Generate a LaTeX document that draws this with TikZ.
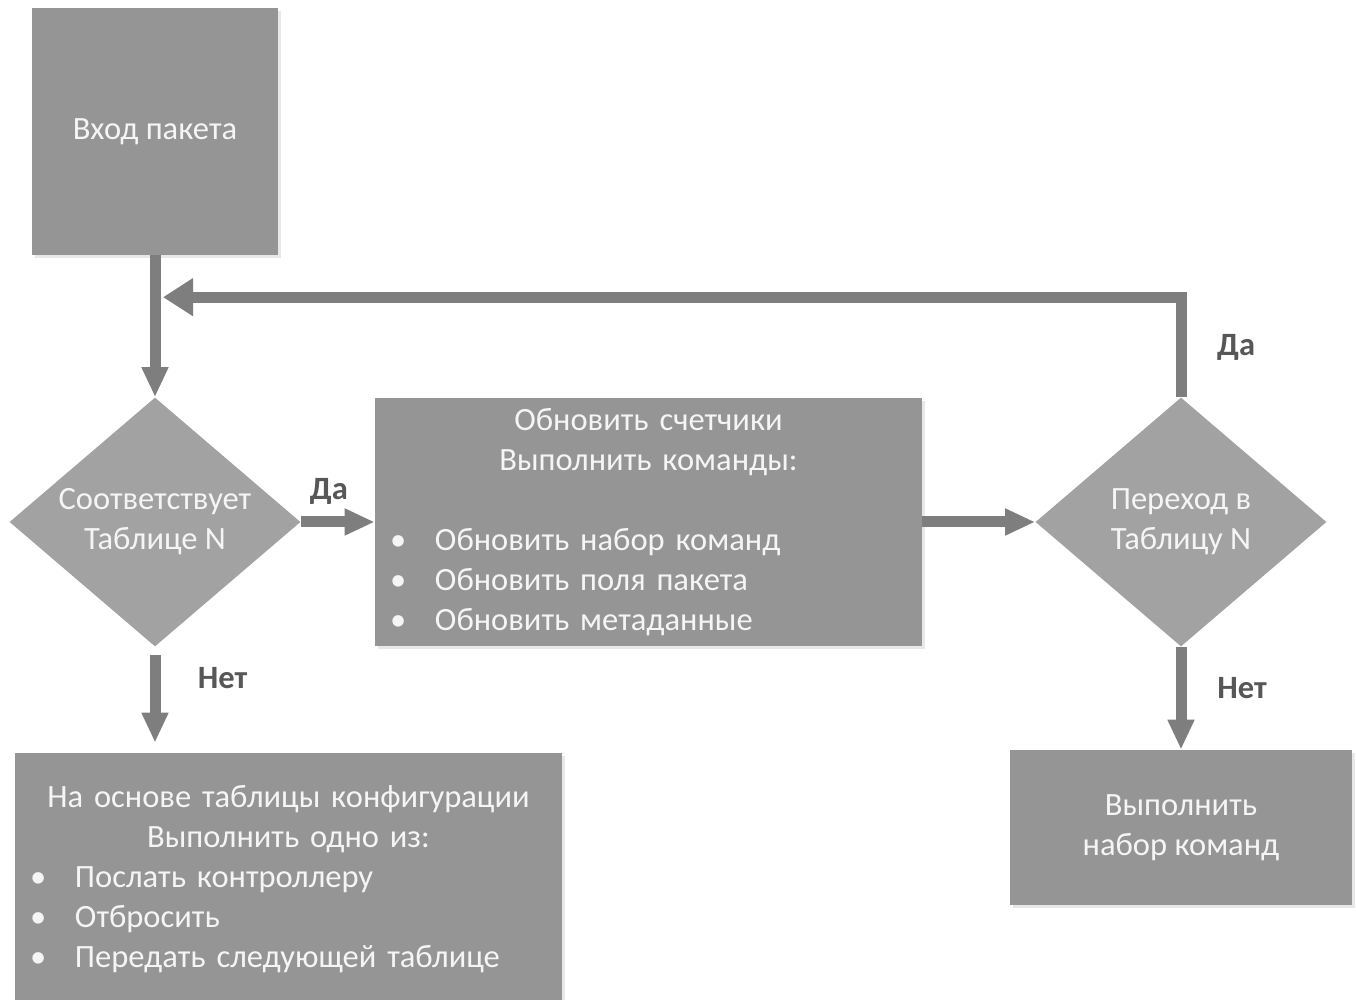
\documentclass[tikz,border=0pt]{standalone}
\usepackage{fontspec}
\setmainfont{Carlito}
\usepackage{xcolor}
\usepackage{tikz}
\usetikzlibrary{shapes,arrows.meta,positioning,calc,shadows}

\definecolor{boxgray}{HTML}{959595}
\definecolor{diagray}{HTML}{A2A2A2}
\definecolor{arrowgray}{HTML}{7E7E7E}
\definecolor{labelgray}{HTML}{575757}
\newcommand{\bitem}[1]{\makebox[\linewidth][l]{\makebox[1.2cm][l]{\hspace{0.3cm}\textbullet}#1}}

\begin{document}
\begin{tikzpicture}[
    node distance=1.5cm,
    font=\fontsize{18.5}{22.76}\selectfont,
    block/.style={rectangle, fill=boxgray, text=white!96!black, align=center, inner sep=0pt,
        drop shadow={shadow xshift=0.05cm, shadow yshift=-0.06cm, opacity=0.18}},
    decision/.style={diamond, fill=diagray, text=white!96!black, align=center, inner sep=-0.6cm,
        minimum width=5.82cm, minimum height=4.98cm},
    arrow/.style={-{Triangle[width=0.5cm, length=0.6cm]}, line width=0.22cm, draw=arrowgray},
    answer/.style={text=labelgray, font=\fontsize{18.5}{22.76}\selectfont\bfseries}
]
    \useasboundingbox (0,0) rectangle (27.12,20);

    % Nodes
    \node[block, minimum width=4.92cm, minimum height=4.94cm] (in) at (3.1,17.37) {Вход пакета};
    \node[decision, below of=in, yshift=-6.31cm] (match) {Соответствует\\Таблице N};
    \node[block, right of=match, xshift=8.37cm, minimum width=10.94cm, minimum height=4.96cm,
        text width=10.94cm] (update) {Обновить счетчики\\Выполнить команды:\\ \strut\\
        \bitem{Обновить набор команд}\\ \bitem{Обновить поля пакета}\\ \bitem{Обновить метаданные}};
    \node[decision, right of=update, xshift=9.15cm] (goto) {Переход в\\Таблицу N};
    \node[block, below of=goto, yshift=-4.61cm, minimum width=6.84cm, minimum height=3.1cm] (run) {Выполнить\\набор команд};
    \node[block, below of=match, yshift=-5.64cm, xshift=2.67cm, minimum width=10.94cm, minimum height=5.04cm,
        text width=10.94cm] (config) {На основе таблицы конфигурации\\Выполнить одно из:\\
        \bitem{Послать контроллеру}\\ \bitem{Отбросить}\\ \bitem{Передать следующей таблице}};
    \coordinate (back) at ($(in.south)!0.295!(match.north) + (0.16,0)$);

    % Arrows
    \draw[arrow] (in) -- (match);
    \draw[arrow] (match.east) -- node[answer, above, pos=0.38, yshift=0.12cm] {Да} (update.west);
    \draw[arrow] (update.east) -- (goto.west);
    \draw[arrow, -{Triangle[width=0.72cm, length=0.6cm]}] (goto.north) |- (back);
    \draw[arrow, shorten <=0.16cm, shorten >=0.2cm] (match.south) -- node[answer, right, xshift=0.63cm, yshift=0.44cm] {Нет} (match.south |- config.north);
    \draw[arrow] (goto.south) -- node[answer, right, xshift=0.5cm, yshift=0.2cm] {Нет} (goto.south |- run.north);
    \node[answer, right=0.6cm of goto.north, yshift=1.0cm] (yes) {Да};
\end{tikzpicture}
\end{document}
